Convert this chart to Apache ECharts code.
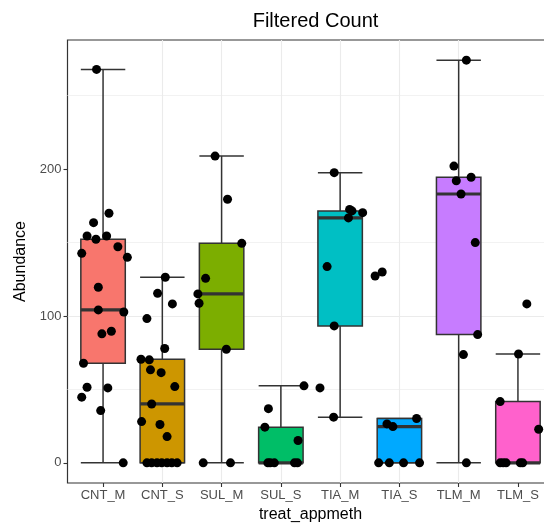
<!DOCTYPE html>
<html>
<head>
<meta charset="utf-8">
<script src="https://cdn.jsdelivr.net/npm/echarts@6/dist/echarts.min.js"></script>
<style>html,body{margin:0;padding:0;background:#fff}#c{width:544px;height:527px}</style>
</head>
<body>
<div id="c"></div>
<script>
// ---- data ----
const categories = ['CNT_M', 'CNT_S', 'SUL_M', 'SUL_S', 'TIA_M', 'TIA_S', 'TLM_M', 'TLM_S'];
const fillColors = ['#F8766D', '#CD9600', '#7CAE00', '#00BE67', '#00BFC4', '#00A9FF', '#C77CFF', '#FF61CC'];
const yTicks = [0, 100, 200];

// box statistics: [lower whisker, Q1, median, Q3, upper whisker]
const boxCNT_M = [0, 67.8, 104.1, 152.2, 267.8];
const boxCNT_S = [0, 0, 40.1, 70.5, 126.3];
const boxSUL_M = [0, 77.3, 115, 149.4, 208.8];
const boxSUL_S = [0, 0, 0, 24.3, 52.4];
const boxTIA_M = [31.1, 93.2, 166.7, 171.5, 197.5];
const boxTIA_S = [0, 0, 24.7, 30.2, 30.2];
const boxTLM_M = [0, 87.3, 183, 194.4, 274.1];
const boxTLM_S = [0, 0, 0, 41.7, 74.1];

// jittered points: [jitter offset (category units), abundance]
const ptsCNT_M = [[-0.11, 267.8], [0.10, 169.9], [-0.16, 163.5], [-0.27, 154.4], [-0.12, 152.2], [0.06, 154.4],
  [0.25, 147.1], [-0.36, 142.6], [0.41, 139.9], [-0.08, 119.5], [-0.08, 104.1], [0.35, 102.7], [-0.02, 87.8],
  [0.14, 89.6], [-0.33, 67.8], [-0.27, 51.5], [0.08, 51.0], [-0.36, 44.7], [-0.04, 35.6], [0.34, 0]];
const ptsCNT_S = [[0.05, 126.3], [-0.08, 115.4], [0.17, 108.2], [-0.26, 98.2], [0.04, 77.8], [-0.36, 70.5],
  [-0.22, 70.1], [-0.20, 63.3], [-0.02, 61.4], [0.21, 51.9], [-0.18, 40.1], [-0.35, 28.1], [-0.04, 26.1],
  [0.08, 17.9], [-0.26, 0], [-0.18, 0], [-0.09, 0], [-0.01, 0], [0.08, 0], [0.16, 0], [0.25, 0]];
const ptsSUL_M = [[-0.11, 208.8], [0.10, 179.4], [0.34, 149.4], [-0.27, 125.6], [-0.40, 115], [-0.38, 108.6],
  [0.08, 77.3], [-0.31, 0], [0.15, 0]];
const ptsSUL_S = [[0.39, 52.4], [-0.21, 36.9], [-0.27, 24.3], [0.29, 15.2], [-0.22, 0], [-0.11, 0], [0.23, 0],
  [0.28, 0], [-0.18, 0]];
const ptsTIA_M = [[-0.10, 197.5], [0.16, 172.5], [0.20, 171.5], [0.38, 170.3], [0.14, 166.7], [-0.22, 133.6],
  [-0.10, 93.2], [-0.34, 51.0], [-0.11, 31.1]];
const ptsTIA_S = [[-0.29, 129.9], [-0.41, 127.2], [0.29, 30.2], [-0.21, 26.5], [-0.11, 24.7], [-0.35, 0],
  [-0.17, 0], [0.07, 0], [0.34, 0]];
const ptsTLM_M = [[0.13, 274.1], [-0.08, 202], [0.21, 194.4], [-0.04, 192], [0.04, 183], [0.28, 149.9],
  [0.32, 87.3], [0.08, 73.7], [0.13, 0]];
const ptsTLM_S = [[0.15, 108.2], [0.01, 74.1], [-0.30, 41.7], [0.35, 22.9], [-0.30, 0], [-0.20, 0], [0.04, 0],
  [0.08, 0], [-0.25, 0]];

const boxes = [boxCNT_M, boxCNT_S, boxSUL_M, boxSUL_S, boxTIA_M, boxTIA_S, boxTLM_M, boxTLM_S];
const points = [ptsCNT_M, ptsCNT_S, ptsSUL_M, ptsSUL_S, ptsTIA_M, ptsTIA_S, ptsTLM_M, ptsTLM_S];

// ---- build series data ----
const boxData = boxes.map((b, i) => [i + 1].concat(b));
const pointData = [];
points.forEach((grp, i) => grp.forEach(p => pointData.push([i + 1 + p[0], p[1]])));

const yMaxData = Math.max(...boxes.map(b => b[4]));
const yPad = yMaxData * 0.05;

const BOX_W = 0.75;
const EDGE = '#333333';
const FONT = '"Liberation Sans", Arial, sans-serif';

function renderBox(params, api) {
  const x = api.value(0);
  const v = [1, 2, 3, 4, 5].map(i => api.value(i));
  const half = api.size([BOX_W, 0])[0] / 2;
  const pMin = api.coord([x, v[0]]);
  const pQ1 = api.coord([x, v[1]]);
  const pMd = api.coord([x, v[2]]);
  const pQ3 = api.coord([x, v[3]]);
  const pMax = api.coord([x, v[4]]);
  const cx = pMin[0];
  const lw = 1.5;
  return {
    type: 'group',
    children: [
      { type: 'line', shape: { x1: cx, y1: pMin[1], x2: cx, y2: pMax[1] }, style: { stroke: EDGE, lineWidth: lw } },
      { type: 'line', shape: { x1: cx - half, y1: pMin[1], x2: cx + half, y2: pMin[1] }, style: { stroke: EDGE, lineWidth: lw } },
      { type: 'line', shape: { x1: cx - half, y1: pMax[1], x2: cx + half, y2: pMax[1] }, style: { stroke: EDGE, lineWidth: lw } },
      { type: 'rect', shape: { x: cx - half, y: pQ3[1], width: 2 * half, height: pQ1[1] - pQ3[1] },
        style: { fill: fillColors[params.dataIndex], stroke: EDGE, lineWidth: lw } },
      { type: 'line', shape: { x1: cx - half, y1: pMd[1], x2: cx + half, y2: pMd[1] }, style: { stroke: EDGE, lineWidth: 3.2 } }
    ]
  };
}

const chart = echarts.init(document.getElementById('c'), null, { renderer: 'canvas' });
chart.setOption({
  animation: false,
  backgroundColor: '#ffffff',
  title: {
    text: 'Filtered Count',
    left: 310.5,
    textAlign: 'center',
    top: 6,
    textStyle: { fontFamily: FONT, fontSize: 20, fontWeight: 'normal', color: '#000' }
  },
  grid: {
    left: 67.5, top: 40, width: 486, height: 443,
    outerBoundsMode: 'none',
    containLabel: false,
    show: true, borderColor: EDGE, borderWidth: 1.2, backgroundColor: '#ffffff'
  },
  xAxis: {
    type: 'value',
    min: 0.4, max: 8.6,
    splitNumber: 8,
    name: 'treat_appmeth',
    nameLocation: 'middle',
    nameGap: 23,
    nameTextStyle: { fontFamily: FONT, fontSize: 16, color: '#000' },
    axisLine: { show: false, onZero: false },
    axisTick: { show: true, length: 4, lineStyle: { color: EDGE, width: 1.1 }, customValues: categories.map((c, i) => i + 1) },
    axisLabel: {
      customValues: categories.map((c, i) => i + 1),
      formatter: v => categories[Math.round(v) - 1] || '',
      fontFamily: FONT, fontSize: 13, color: '#4D4D4D', margin: 6
    },
    splitLine: { show: true, showMinLine: false, showMaxLine: false, lineStyle: { color: '#EBEBEB', width: 1.1 } }
  },
  yAxis: {
    type: 'value',
    min: -yPad, max: yMaxData + yPad,
    splitNumber: 3,
    name: 'Abundance',
    nameLocation: 'middle',
    nameGap: 33,
    nameTextStyle: { fontFamily: FONT, fontSize: 16, color: '#000' },
    axisLine: { show: false, onZero: false },
    axisTick: { show: true, length: 4, lineStyle: { color: EDGE, width: 1.1 }, customValues: yTicks },
    axisLabel: { customValues: yTicks, fontFamily: FONT, fontSize: 13, color: '#4D4D4D', margin: 6 },
    splitLine: { show: true, showMinLine: false, showMaxLine: false, lineStyle: { color: '#EBEBEB', width: 1.1 } },
    minorTick: { show: false, splitNumber: 2 },
    minorSplitLine: { show: true, lineStyle: { color: '#F0F0F0', width: 0.9 } }
  },
  series: [
    { type: 'custom', renderItem: renderBox, data: boxData, encode: { x: 0, y: [1, 2, 3, 4, 5] }, z: 2, clip: true },
    { type: 'scatter', data: pointData, symbol: 'circle', symbolSize: 9, itemStyle: { color: '#000', opacity: 1 }, z: 3 }
  ]
});
</script>
</body>
</html>
